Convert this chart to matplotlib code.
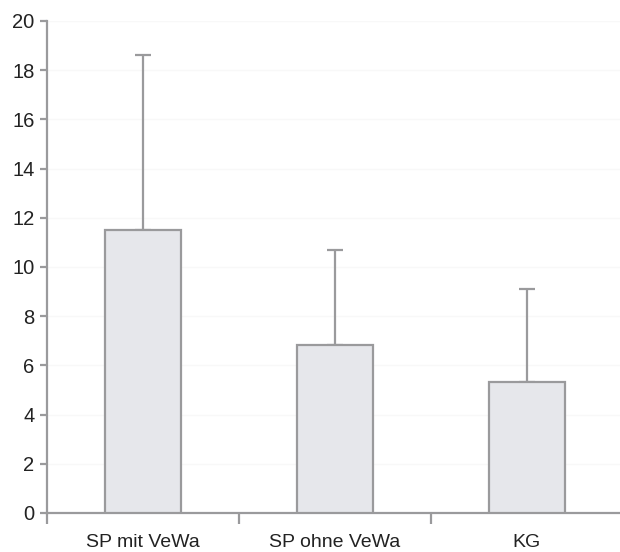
import matplotlib
matplotlib.use("Agg")
import matplotlib.pyplot as plt
from matplotlib.ticker import FixedLocator, NullFormatter, FixedFormatter

# group means and upper error (mean + SD)
groups = ["SP mit VeWa", "SP ohne VeWa", "KG"]
means = [11.5, 6.83, 5.34]
upper = [18.6, 10.7, 9.12]
y_ticks = [0, 2, 4, 6, 8, 10, 12, 14, 16, 18, 20]

GREY = "#9a9a9c"
FILL = "#e6e7eb"
TEXT = "#222222"

plt.rcParams["font.family"] = ["Liberation Sans", "DejaVu Sans"]

fig = plt.figure(figsize=(6.2, 5.52), dpi=100)
ax = fig.add_axes([47 / 620, 1 - 513 / 552, 1 - 47 / 620, 492 / 552])

xs = list(range(len(groups)))
err = [u - m for u, m in zip(upper, means)]
ax.bar(xs, means, width=0.4, color=FILL, edgecolor=GREY, linewidth=1.6, zorder=3)
ax.errorbar(xs, means, yerr=[[0] * len(xs), err], fmt="none", ecolor=GREY,
            elinewidth=1.6, capsize=5.8, capthick=1.6, zorder=2)

ax.set_ylim(0, 20)
ax.set_xlim(-0.5, -0.5 + 573 / 192)
ax.set_yticks(y_ticks)
ax.set_yticklabels([str(t) for t in y_ticks])

# boundary ticks below the axis, labels centred under the bars
ax.xaxis.set_major_locator(FixedLocator([-0.5, 0.5, 1.5, 2.5]))
ax.xaxis.set_major_formatter(NullFormatter())
ax.xaxis.set_minor_locator(FixedLocator(xs))
ax.xaxis.set_minor_formatter(FixedFormatter(groups))
ax.tick_params(axis="x", which="major", length=8, width=1.6, color=GREY)
ax.tick_params(axis="x", which="minor", length=0, pad=15, labelsize=14, labelcolor=TEXT)
ax.tick_params(axis="y", length=5, width=1.6, color=GREY, pad=4, labelsize=14.5,
               labelcolor=TEXT)

ax.yaxis.grid(True, color="#f8f8f8", linewidth=1.0, zorder=0)
ax.set_axisbelow(True)

for side in ("top", "right"):
    ax.spines[side].set_visible(False)
for side in ("left", "bottom"):
    ax.spines[side].set_color(GREY)
    ax.spines[side].set_linewidth(1.6)

fig.savefig("out.png", dpi=100)
